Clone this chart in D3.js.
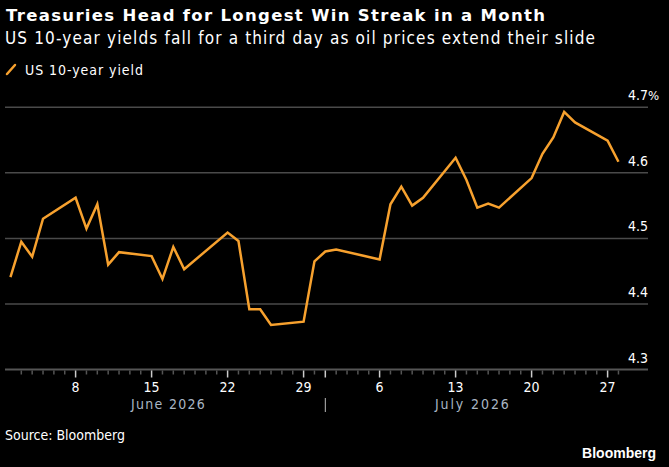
<!DOCTYPE html>
<html><head><meta charset="utf-8">
<script src="https://cdn.jsdelivr.net/npm/d3@7/dist/d3.min.js"></script>
<style>
html,body{margin:0;padding:0;background:#000;}
svg{display:block;}
</style></head>
<body>
<svg id="chart" width="669" height="467"></svg>
<script>
const dates = ["2026-06-02","2026-06-03","2026-06-04","2026-06-05","2026-06-08","2026-06-09","2026-06-10","2026-06-11","2026-06-12",
"2026-06-15","2026-06-16","2026-06-17","2026-06-18","2026-06-22","2026-06-23","2026-06-24","2026-06-25","2026-06-26",
"2026-06-29","2026-06-30","2026-07-01","2026-07-02","2026-07-06","2026-07-07","2026-07-08","2026-07-09","2026-07-10",
"2026-07-13","2026-07-14","2026-07-15","2026-07-16","2026-07-17","2026-07-20","2026-07-21","2026-07-22","2026-07-23","2026-07-24",
"2026-07-27","2026-07-28"];
const yields = [4.441,4.495,4.472,4.530,4.562,4.515,4.552,4.460,4.479,
4.473,4.438,4.487,4.453,4.509,4.496,4.392,4.392,4.368,
4.373,4.465,4.480,4.483,4.468,4.552,4.579,4.550,4.562,
4.623,4.589,4.547,4.553,4.547,4.592,4.629,4.654,4.693,4.677,
4.649,4.617];
const yTicks = [4.3,4.4,4.5,4.6,4.7];
const xTickDays = ["2026-06-08","2026-06-15","2026-06-22","2026-06-29","2026-07-06","2026-07-13","2026-07-20","2026-07-27"];
const months = [{label:"June 2026", start:"2026-06-02", end:"2026-07-01"},{label:"July 2026", start:"2026-07-01", end:"2026-07-28"}];
const title = "Treasuries Head for Longest Win Streak in a Month";
const subtitle = "US 10-year yields fall for a third day as oil prices extend their slide";
const seriesName = "US 10-year yield";
const source = "Source: Bloomberg";

const parse = d3.utcParse("%Y-%m-%d");
const data = dates.map((d,i)=>({date:parse(d), value:yields[i]}));

const svg = d3.select("#chart");
const left = 5, right = 648;
const x = d3.scaleUtc().domain([parse("2026-06-08"), parse("2026-07-27")]).range([75.6, 607.6]);
const y = d3.scaleLinear().domain([4.3, 4.7]).range([369.5, 107.3]);

const cond = "'DejaVu Sans Condensed','DejaVu Sans',sans-serif";

// titles
svg.append("text").attr("x",6).attr("y",21).attr("fill","#fff")
  .attr("font-family","'DejaVu Sans',sans-serif").attr("font-weight","bold").attr("font-size",16.5)
  .attr("textLength",539).attr("lengthAdjust","spacing")
  .text(title);
svg.append("text").attr("x",5).attr("y",44).attr("fill","#fff")
  .attr("font-family",cond).attr("font-size",17)
  .attr("textLength",590).attr("lengthAdjust","spacing")
  .text(subtitle);
// legend
svg.append("line").attr("x1",7).attr("y1",74).attr("x2",15).attr("y2",65)
  .attr("stroke","#f7a12e").attr("stroke-width",2.5).attr("stroke-linecap","round");
svg.append("text").attr("x",25).attr("y",75).attr("fill","#fff")
  .attr("font-family",cond).attr("font-size",14)
  .attr("textLength",118).attr("lengthAdjust","spacing")
  .text(seriesName);

// grid
const grid = svg.append("g");
grid.selectAll("line").data(yTicks.filter(t=>t>4.3)).join("line")
  .attr("x1",left).attr("x2",right).attr("y1",d=>y(d)).attr("y2",d=>y(d))
  .attr("stroke","#4a4a4a").attr("stroke-width",1.5);
const yl = svg.append("g").attr("font-family",cond).attr("font-size",14).attr("fill","#fff");
yl.selectAll("text").data(yTicks).join("text")
  .attr("x",right).attr("y",d=>y(d)-7).attr("text-anchor","end")
  .text(d=>d.toFixed(1));
yl.append("text").attr("x",right).attr("y",y(4.7)-7).attr("font-size",13).text("%");

// x axis
const axisG = svg.append("g");
axisG.append("line").attr("x1",left).attr("x2",right).attr("y1",y(4.3)).attr("y2",y(4.3))
  .attr("stroke","#555").attr("stroke-width",2);
const allDays = d3.utcDay.range(parse("2026-06-03"), d3.utcDay.offset(parse("2026-07-28"),1));
const majorSet = new Set(xTickDays.concat(["2026-07-01"]));
const fmt = d3.utcFormat("%Y-%m-%d");
axisG.selectAll("line.tick").data(allDays).join("line").attr("class","tick")
  .attr("x1",d=>x(d)).attr("x2",d=>x(d))
  .attr("y1",y(4.3)+1).attr("y2",d=>majorSet.has(fmt(d))? y(4.3)+8 : y(4.3)+5)
  .attr("stroke",d=>majorSet.has(fmt(d))? "#ccc" : "#555").attr("stroke-width",1.5);
axisG.selectAll("text.xl").data(xTickDays.map(parse)).join("text").attr("class","xl")
  .attr("x",d=>x(d)).attr("y",392).attr("text-anchor","middle").attr("fill","#fff")
  .attr("font-family",cond).attr("font-size",14)
  .text(d=>d3.utcFormat("%-d")(d));
axisG.selectAll("text.ml").data(months).join("text").attr("class","ml")
  .attr("x",d=>(x(parse(d.start))+x(parse(d.end)))/2 - 37).attr("y",409)
  .attr("fill","#a9b6c4").attr("font-family",cond).attr("font-size",14)
  .attr("textLength",74).attr("lengthAdjust","spacing")
  .text(d=>d.label);
axisG.append("line").attr("x1",x(parse("2026-07-01"))).attr("x2",x(parse("2026-07-01")))
  .attr("y1",398).attr("y2",412).attr("stroke","#bbb").attr("stroke-width",1);

// line
svg.append("path").datum(data)
  .attr("fill","none").attr("stroke","#f7a12e").attr("stroke-width",2.5).attr("stroke-linejoin","miter")
  .attr("d", d3.line().x(d=>x(d.date)).y(d=>y(d.value)));

// footer
svg.append("text").attr("x",5).attr("y",440).attr("fill","#fff")
  .attr("font-family",cond).attr("font-size",14).text(source);
svg.append("text").attr("x",656).attr("y",458).attr("text-anchor","end").attr("fill","#fff")
  .attr("font-family","'Liberation Sans',Arial,sans-serif").attr("font-weight","bold").attr("font-size",14)
  .text("Bloomberg");
</script>
</body></html>
